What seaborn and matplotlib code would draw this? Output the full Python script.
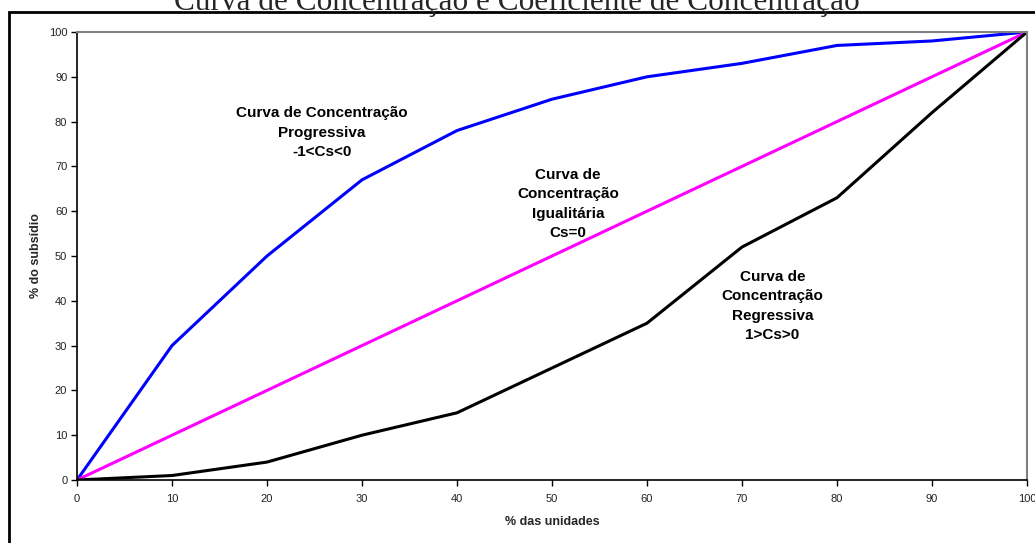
import matplotlib
matplotlib.use("Agg")
import matplotlib.pyplot as plt
import seaborn as sns
import pandas as pd
from matplotlib.patches import Rectangle

units = [0, 10, 20, 30, 40, 50, 60, 70, 80, 90, 100]
progressiva = [0, 30, 50, 67, 78, 85, 90, 93, 97, 98, 100]
igualitaria = [0, 10, 20, 30, 40, 50, 60, 70, 80, 90, 100]
regressiva = [0, 1, 4, 10, 15, 25, 35, 52, 63, 82, 100]

df = pd.DataFrame({
    "x": units * 3,
    "y": progressiva + igualitaria + regressiva,
    "serie": ["Progressiva"] * 11 + ["Igualitária"] * 11 + ["Regressiva"] * 11,
})
palette = {"Progressiva": "#0000ff", "Igualitária": "#ff00ff", "Regressiva": "#000000"}

sns.set_theme(style="white")
plt.rcParams['font.family'] = ['Liberation Sans', 'DejaVu Sans']

fig = plt.figure(figsize=(10.35, 5.43), dpi=100)
ax = fig.add_axes([77/1035, 1 - 480/543, 950/1035, 448/543])

sns.lineplot(data=df, x="x", y="y", hue="serie", palette=palette, linewidth=2.2,
             legend=False, ax=ax)

ax.set_xlim(0, 100)
ax.set_ylim(0, 100)
ax.set_xticks(range(0, 101, 10))
ax.set_yticks(range(0, 101, 10))
ax.tick_params(axis="both", which="both", direction="out", length=4, width=1,
               labelsize=8, color="black", labelcolor="#222222", bottom=True, left=True)
ax.tick_params(axis="x", pad=6)
ax.tick_params(axis="y", pad=3)
for s in ["left", "bottom"]:
    ax.spines[s].set_color("black")
    ax.spines[s].set_linewidth(1.2)
for s in ["top", "right"]:
    ax.spines[s].set_color("#808080")
    ax.spines[s].set_linewidth(1.5)

ax.set_xlabel("% das unidades", fontsize=9, fontweight="bold", labelpad=9)
ax.set_ylabel("% do subsídio", fontsize=9, fontweight="bold", labelpad=5)

kw = dict(fontsize=11, fontweight="bold", ha="center", va="center", linespacing=1.5,
          color="black")
ax.text(25.8, 77.5, "Curva de Concentração\nProgressiva\n-1<Cs<0", **kw)
ax.text(51.7, 61.6, "Curva de\nConcentração\nIgualitária\nCs=0", **kw)
ax.text(73.2, 38.8, "Curva de\nConcentração\nRegressiva\n1>Cs>0", **kw)

fig.text(517/1035, 1 - 10/543, "Curva de Concentração e Coeficiente de Concentração",
         ha="center", va="baseline", fontsize=22.5, family=["Liberation Serif", "DejaVu Serif"])

fig.patches.append(Rectangle((9/1035, -0.2), 1.2, 1 - 12/543 + 0.2, transform=fig.transFigure,
                             fill=False, edgecolor="black", linewidth=2, clip_on=False))

fig.savefig("out.png", dpi=100, facecolor="white")
